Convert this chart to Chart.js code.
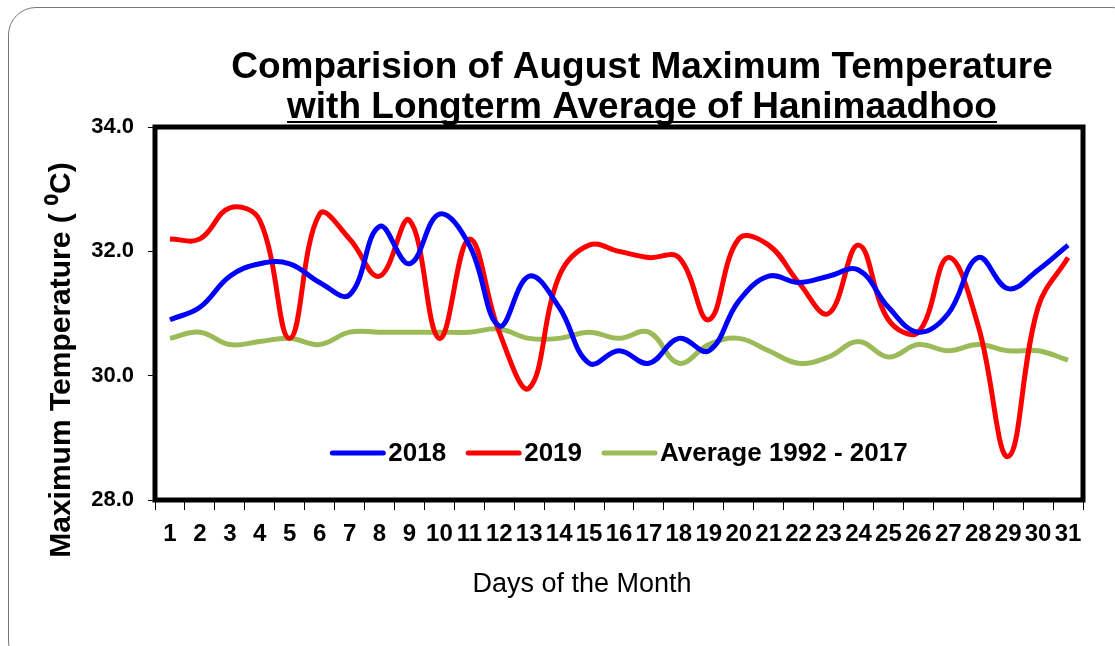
<!DOCTYPE html>
<html lang="en">
<head>
  <meta charset="UTF-8">
  <title>August Maximum Temperature - Hanimaadhoo</title>
  <script src="https://cdn.jsdelivr.net/npm/chart.js"></script>
  <style>
    html, body { margin: 0; padding: 0; background: #fff; overflow: hidden; }
    #frame {
      position: absolute; left: 8px; top: 7px; width: 1130px; height: 660px;
      border: 1px solid #777; border-radius: 28px;
    }
    #wrap { position: absolute; left: 0; top: 0; width: 1115px; height: 646px; }
  </style>
</head>
<body>
  <div id="frame"></div>
  <div id="wrap"><canvas id="tempChart" width="1115" height="646"></canvas></div>

  <script>
    // day labels on the x axis
    const days = ['1','2','3','4','5','6','7','8','9','10','11','12','13','14','15','16',
                  '17','18','19','20','21','22','23','24','25','26','27','28','29','30','31'];

    // daily maximum temperature (deg C)
    const temp2018 = [30.9, 31.1, 31.6, 31.8, 31.8, 31.5, 31.3, 32.4, 31.8, 32.6,
                      32.1, 30.8, 31.6, 31.1, 30.2, 30.4, 30.2, 30.6, 30.4, 31.2,
                      31.6, 31.5, 31.6, 31.7, 31.1, 30.7, 31.0, 31.9, 31.4, 31.7, 32.1];
    const temp2019 = [32.2, 32.2, 32.7, 32.5, 30.6, 32.6, 32.2, 31.6, 32.5, 30.6,
                      32.2, 30.7, 29.8, 31.6, 32.1, 32.0, 31.9, 31.9, 30.9, 32.2,
                      32.1, 31.5, 31.0, 32.1, 30.9, 30.7, 31.9, 30.8, 28.7, 31.1, 31.9];
    const tempAvg  = [30.6, 30.7, 30.5, 30.55, 30.6, 30.5, 30.7, 30.7, 30.7, 30.7,
                      30.7, 30.75, 30.6, 30.6, 30.7, 30.6, 30.7, 30.2, 30.5, 30.6,
                      30.4, 30.2, 30.3, 30.55, 30.3, 30.5, 30.4, 30.5, 30.4, 30.4, 30.25];

    const yTicks = [28, 30, 32, 34];

    const FONT = '"Liberation Sans", Arial, sans-serif';
    Chart.defaults.font.family = FONT;
    Chart.defaults.color = '#000';

    // frame, titles and the in-plot legend
    const decorations = {
      id: 'decorations',
      afterDraw(chart) {
        const ctx = chart.ctx;
        const a = chart.chartArea;
        ctx.save();

        // plot frame
        ctx.strokeStyle = '#000';
        ctx.lineWidth = 5;
        ctx.strokeRect(a.left, a.top, a.right - a.left, a.bottom - a.top);

        // chart title, second line underlined
        ctx.fillStyle = '#000';
        ctx.textAlign = 'center';
        ctx.textBaseline = 'alphabetic';
        ctx.font = 'bold 37px ' + FONT;
        ctx.fillText('Comparision of August Maximum Temperature', 642, 78);
        const line2 = 'with Longterm Average of Hanimaadhoo';
        ctx.fillText(line2, 642, 118);
        const w2 = ctx.measureText(line2).width;
        ctx.fillRect(642 - w2 / 2, 121, w2, 2);

        // y axis title
        ctx.save();
        ctx.translate(62, 360);
        ctx.rotate(-Math.PI / 2);
        ctx.textBaseline = 'middle';
        ctx.font = 'bold 30px ' + FONT;
        ctx.fillText('Maximum Temperature ( \u2070C)', 0, 0);
        ctx.restore();

        // x axis title
        ctx.font = '27px ' + FONT;
        ctx.textBaseline = 'middle';
        ctx.fillText('Days of the Month', 582, 585);

        // legend inside the plot
        ctx.font = 'bold 26px ' + FONT;
        ctx.textAlign = 'left';
        const sample = 55, gapText = 3, gapItem = 20;
        const items = chart.data.datasets.map(ds => ({
          label: ds.label, color: ds.borderColor, w: ctx.measureText(ds.label).width
        }));
        let total = 0;
        items.forEach((it, i) => {
          total += sample + gapText + it.w + (i < items.length - 1 ? gapItem : 0);
        });
        let x = (a.left + a.right) / 2 - total / 2;
        const y = 453;
        ctx.lineCap = 'round';
        items.forEach(it => {
          ctx.strokeStyle = it.color;
          ctx.lineWidth = 5;
          ctx.beginPath();
          ctx.moveTo(x + 2, y);
          ctx.lineTo(x + sample - 2, y);
          ctx.stroke();
          x += sample + gapText;
          ctx.fillText(it.label, x, y + 1);
          x += it.w + gapItem;
        });

        ctx.restore();
      }
    };

    new Chart(document.getElementById('tempChart'), {
      type: 'line',
      data: {
        labels: days,
        datasets: [
          { label: '2018', data: temp2018, borderColor: '#0000FF' },
          { label: '2019', data: temp2019, borderColor: '#FF0000' },
          { label: 'Average 1992 - 2017', data: tempAvg, borderColor: '#9BBB59' }
        ]
      },
      options: {
        responsive: false,
        animation: false,
        layout: { padding: { top: 127, right: 32, bottom: 0, left: 0 } },
        elements: {
          line: { borderWidth: 5, tension: 0.4, fill: false },
          point: { radius: 0 }
        },
        plugins: {
          legend: { display: false },
          title: { display: false },
          tooltip: { enabled: false }
        },
        scales: {
          x: {
            offset: true,
            border: { display: false },
            grid: { drawOnChartArea: false, drawTicks: true, tickLength: 10, color: '#000', offset: true },
            ticks: {
              autoSkip: false, maxRotation: 0, minRotation: 0, padding: 10,
              font: { size: 24, weight: 'bold' }
            },
            afterFit(scale) { scale.height = 146; }
          },
          y: {
            min: 28,
            max: 34,
            border: { display: false },
            grid: { drawOnChartArea: false, drawTicks: true, tickLength: 7, color: '#000' },
            afterBuildTicks(scale) { scale.ticks = yTicks.map(v => ({ value: v })); },
            ticks: {
              padding: 14,
              font: { size: 22, weight: 'bold' },
              callback: v => Number(v).toFixed(1)
            },
            afterFit(scale) { scale.width = 155; }
          }
        }
      },
      plugins: [decorations]
    });
  </script>
</body>
</html>
